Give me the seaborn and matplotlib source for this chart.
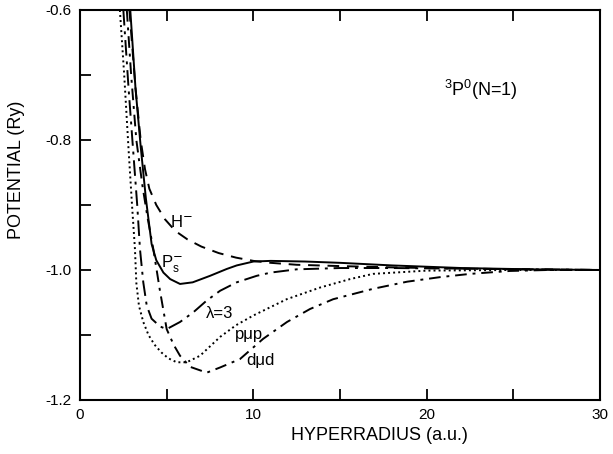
import pandas as pd
import matplotlib
matplotlib.use("Agg")
import matplotlib.pyplot as plt
import seaborn as sns
from matplotlib.ticker import MultipleLocator, FuncFormatter

# values (hyperradius in a.u., potential in Ry)
h_x = [2.85, 3.2, 3.5, 3.75, 4.0, 4.4, 4.9, 5.5, 6.2, 7.0, 8.0, 9.0, 10.0, 11.0, 12.5, 15.0, 18.0, 22.0, 26.0, 30.0]
h_y = [-0.6, -0.72, -0.8, -0.845, -0.875, -0.90, -0.922, -0.94, -0.953, -0.964, -0.974, -0.981, -0.986,
       -0.989, -0.992, -0.994, -0.996, -0.998, -0.999, -1.0]

ps_x = [2.9, 3.2, 3.5, 3.8, 4.13, 4.4, 4.81, 5.2, 5.77, 6.5, 7.5, 8.46, 9.04, 10.0, 11.0, 13.0, 15.0, 18.0,
        22.0, 26.0, 30.0]
ps_y = [-0.6, -0.72, -0.81, -0.89, -0.96, -0.985, -1.004, -1.014, -1.0215, -1.019, -1.009, -0.9985, -0.993,
        -0.987, -0.986, -0.987, -0.989, -0.993, -0.997, -0.999, -1.0]

lam_x = [2.5, 2.8, 3.06, 3.3, 3.46, 3.65, 3.85, 4.13, 4.62, 5.0, 5.77, 6.54, 7.31, 8.08, 9.04, 10.19, 11.0,
         12.5, 15.0, 18.0, 22.0, 26.0, 30.0]
lam_y = [-0.6, -0.72, -0.814, -0.9, -0.968, -1.019, -1.055, -1.075, -1.087, -1.091, -1.080, -1.065, -1.047,
         -1.032, -1.019, -1.009, -1.004, -0.999, -0.997, -0.997, -0.998, -0.999, -1.0]

pmp_x = [2.3, 2.55, 2.8, 3.0, 3.17, 3.25, 3.4, 3.65, 3.95, 4.3, 4.7, 5.1, 5.58, 6.15, 6.92, 8.08, 9.0, 10.0,
         11.92, 13.85, 15.58, 16.9, 20.0, 25.0, 30.0]
pmp_y = [-0.6, -0.7, -0.814, -0.9, -0.968, -1.02, -1.055, -1.08, -1.10, -1.115, -1.127, -1.136, -1.142,
         -1.142, -1.132, -1.103, -1.085, -1.070, -1.045, -1.027, -1.014, -1.006, -1.001, -1.0, -1.0]

dmd_x = [2.7, 2.95, 3.25, 3.6, 3.9, 4.23, 4.6, 5.0, 5.4, 5.77, 6.35, 7.31, 8.08, 9.23, 10.56, 11.94, 13.27,
         14.6, 16.9, 18.87, 20.77, 22.5, 24.8, 27.0, 30.0]
dmd_y = [-0.6, -0.7, -0.8, -0.87, -0.92, -0.968, -1.03, -1.091, -1.115, -1.132, -1.149, -1.158, -1.150,
         -1.137, -1.106, -1.080, -1.060, -1.045, -1.029, -1.018, -1.011, -1.006, -1.0015, -1.0, -1.0]

curves = {
    "H-": (h_x, h_y, (0, (6, 4))),
    "Ps-": (ps_x, ps_y, "-"),
    "lambda3": (lam_x, lam_y, (0, (8, 3, 1.5, 3))),
    "pmp": (pmp_x, pmp_y, (0, (1, 1.6))),
    "dmd": (dmd_x, dmd_y, (0, (6, 3, 1.5, 3))),
}

sns.set_style("ticks")
plt.rcParams["font.family"] = ["Liberation Sans", "DejaVu Sans"]
plt.rcParams["axes.unicode_minus"] = False
plt.rcParams["text.color"] = "black"
plt.rcParams["axes.labelcolor"] = "black"
plt.rcParams["xtick.color"] = "black"
plt.rcParams["ytick.color"] = "black"
plt.rcParams["axes.edgecolor"] = "black"

fig = plt.figure(figsize=(6.13, 4.54), dpi=100)
ax = fig.add_axes([0.1305, 0.119, 0.8485, 0.859])

for name, (xs, ys, ls) in curves.items():
    df = pd.DataFrame({"r": xs, "U": ys})
    sns.lineplot(data=df, x="r", y="U", sort=False, estimator=None, color="black",
                 linewidth=1.4, linestyle=ls, ax=ax)

ax.set_xlim(0, 30)
ax.set_ylim(-1.2, -0.6)
ax.xaxis.set_major_locator(MultipleLocator(10))
ax.xaxis.set_minor_locator(MultipleLocator(5))
ax.yaxis.set_major_locator(MultipleLocator(0.2))
ax.yaxis.set_minor_locator(MultipleLocator(0.1))
ax.yaxis.set_major_formatter(FuncFormatter(lambda v, p: f"{v:.1f}"))
ax.tick_params(which="both", direction="in", length=8, width=1.3, labelsize=11, pad=6)
ax.tick_params(axis="x", which="both", top=True)
ax.tick_params(axis="y", which="both", right=False)
for s in ax.spines.values():
    s.set_linewidth(1.5)

ax.set_xlabel("HYPERRADIUS (a.u.)", fontsize=13)
ax.set_ylabel("POTENTIAL (Ry)", fontsize=13)
ax.xaxis.set_label_coords(0.575, -0.07)
ax.yaxis.set_label_coords(-0.106, 0.59)

ax.text(5.85, -0.926, r"H$^{-}$", fontsize=12, ha="center", va="center")
ax.text(5.3, -0.99, r"P$_\mathregular{s}^{-}$", fontsize=12, ha="center", va="center")
ax.text(8.05, -1.067, "λ=3", fontsize=12, ha="center", va="center")
ax.text(9.75, -1.10, "pμp", fontsize=12, ha="center", va="center")
ax.text(10.4, -1.14, "dμd", fontsize=12, ha="center", va="center")
ax.text(23.1, -0.723, r"$^\mathregular{3}$P$^\mathregular{0}$(N=1)", fontsize=13, ha="center", va="center")

fig.savefig("out.png", dpi=100)
